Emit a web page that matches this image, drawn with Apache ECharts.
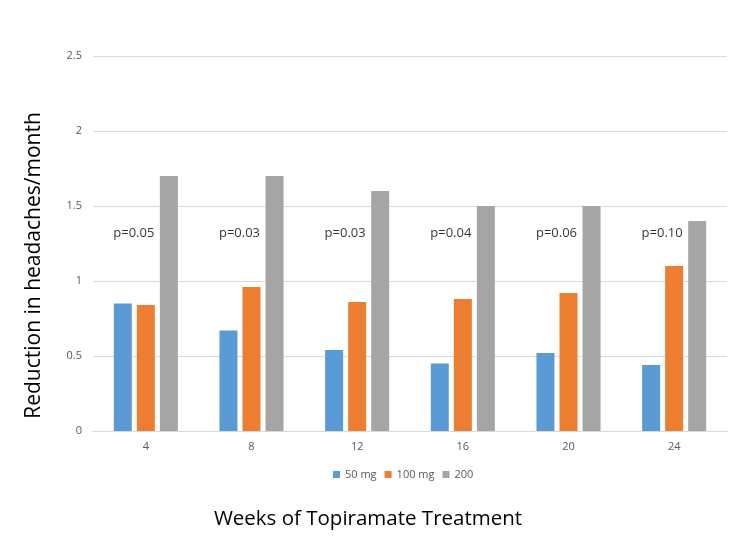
<!DOCTYPE html>
<html>
<head>
<meta charset="utf-8">
<script src="https://cdn.jsdelivr.net/npm/echarts@6/dist/echarts.min.js"></script>
<style>html,body{margin:0;padding:0;background:#fff;}#c{width:738px;height:554px;}</style>
</head>
<body>
<div id="c"></div>
<script>
const categories = ['4', '8', '12', '16', '20', '24'];
const mg50 = [0.85, 0.67, 0.54, 0.45, 0.52, 0.44];
const mg100 = [0.84, 0.96, 0.86, 0.88, 0.92, 1.10];
const mg200 = [1.70, 1.70, 1.60, 1.50, 1.50, 1.40];
const pValues = ['p=0.05', 'p=0.03', 'p=0.03', 'p=0.04', 'p=0.06', 'p=0.10'];
const pLabelLevel = 1.32;
const yTicks = [0, 0.5, 1, 1.5, 2, 2.5];

const font = '"Open Sans", "Liberation Sans", sans-serif';
const chart = echarts.init(document.getElementById('c'));
const barBase = {
  type: 'bar',
  barWidth: 18,
  barGap: '28%'
};
chart.setOption({
  animation: false,
  textStyle: { fontFamily: font },
  grid: { left: 93, right: 11, top: 56, bottom: 123 },
  legend: {
    data: ['50 mg', '100 mg', '200'],
    left: 328,
    top: 464,
    itemWidth: 7,
    itemHeight: 7,
    itemGap: 8,
    icon: 'rect',
    textStyle: { fontSize: 11, color: '#595959', fontFamily: font }
  },
  xAxis: {
    type: 'category',
    data: categories,
    axisLine: { lineStyle: { color: '#d9d9d9' } },
    axisTick: { show: false },
    axisLabel: { color: '#595959', fontSize: 11, margin: 10 },
    name: 'Weeks of Topiramate Treatment',
    nameLocation: 'middle',
    nameGap: 78,
    nameTextStyle: { fontSize: 20.5, color: '#000', padding: [0, 84, 0, 0] }
  },
  yAxis: {
    type: 'value',
    min: yTicks[0],
    max: yTicks[yTicks.length - 1],
    interval: 0.5,
    axisLine: { show: false },
    axisTick: { show: false },
    splitLine: { lineStyle: { color: '#d9d9d9' } },
    axisLabel: { color: '#595959', fontSize: 11, margin: 11 },
    name: 'Reduction in headaches/month',
    nameLocation: 'middle',
    nameGap: 48,
    nameTextStyle: { fontSize: 21, color: '#000', padding: [0, 44, 0, 0] }
  },
  series: [
    Object.assign({}, barBase, { name: '50 mg', data: mg50, itemStyle: { color: '#5b9bd5' } }),
    Object.assign({}, barBase, { name: '100 mg', data: mg100, itemStyle: { color: '#ed7d31' } }),
    Object.assign({}, barBase, { name: '200', data: mg200, itemStyle: { color: '#a5a5a5' } }),
    {
      type: 'scatter',
      name: 'p',
      symbolSize: 0,
      silent: true,
      data: categories.map((c, i) => ({ value: [c, pLabelLevel], name: pValues[i] })),
      label: {
        show: true,
        position: 'inside',
        formatter: p => p.name,
        color: '#000',
        fontSize: 13,
        offset: [-12, 0]
      }
    }
  ]
});
</script>
</body>
</html>
